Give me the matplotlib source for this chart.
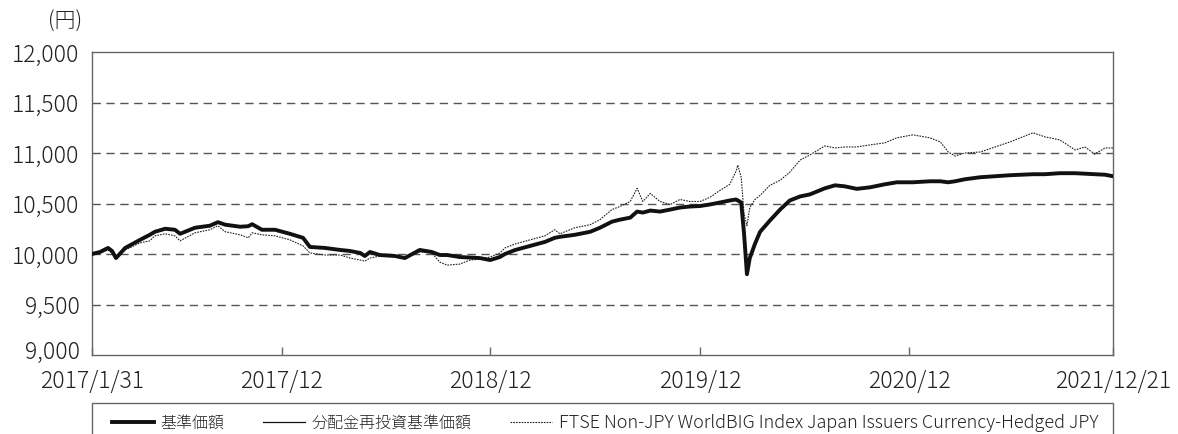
import matplotlib
matplotlib.use("Agg")
import matplotlib.pyplot as plt
import matplotlib.patches as mpatches
import matplotlib.transforms as mtransforms
import numpy as np
import pandas as pd

plt.rcParams['font.family'] = ['Noto Sans CJK JP', 'DejaVu Sans']
plt.rcParams['font.weight'] = 'light'

dates = [
    "2017-01-31", "2017-02-14", "2017-02-28", "2017-03-07", "2017-03-14", "2017-03-30",
    "2017-04-25", "2017-05-12", "2017-05-21", "2017-06-08", "2017-06-25", "2017-07-04",
    "2017-07-30", "2017-08-25", "2017-09-08", "2017-09-21", "2017-10-17", "2017-10-31",
    "2017-11-07", "2017-11-24", "2017-12-17", "2018-01-12", "2018-02-04", "2018-02-16",
    "2018-03-14", "2018-04-10", "2018-04-27", "2018-05-15", "2018-05-23", "2018-06-01",
    "2018-06-18", "2018-07-15", "2018-08-01", "2018-08-27", "2018-09-17", "2018-10-01",
    "2018-10-14", "2018-11-05", "2018-11-23", "2018-12-10", "2018-12-28", "2019-01-14",
    "2019-01-23", "2019-02-10", "2019-03-08", "2019-04-03", "2019-04-20", "2019-04-29",
    "2019-05-25", "2019-06-21", "2019-07-08", "2019-07-29", "2019-08-12", "2019-08-30",
    "2019-09-11", "2019-09-21", "2019-10-04", "2019-10-21", "2019-11-08", "2019-11-25",
    "2019-12-12", "2019-12-30", "2020-01-16", "2020-02-03", "2020-02-20", "2020-03-02",
    "2020-03-05", "2020-03-11", "2020-03-16", "2020-03-21", "2020-03-26", "2020-04-04",
    "2020-04-13", "2020-04-30", "2020-05-18", "2020-06-04", "2020-06-22", "2020-07-09",
    "2020-08-04", "2020-08-22", "2020-09-08", "2020-09-29", "2020-10-22", "2020-11-17",
    "2020-12-08", "2021-01-05", "2021-02-04", "2021-02-22", "2021-03-08", "2021-03-20",
    "2021-04-06", "2021-05-03", "2021-05-29", "2021-06-24", "2021-08-03", "2021-08-24",
    "2021-09-19", "2021-10-16", "2021-11-02", "2021-11-19", "2021-12-07", "2021-12-21",
]

nav = [
    10000, 10020, 10060, 10030, 9960, 10060,
    10140, 10190, 10220, 10250, 10240, 10200,
    10260, 10280, 10315, 10290, 10270, 10275,
    10295, 10240, 10240, 10200, 10160, 10070,
    10060, 10040, 10030, 10010, 9980, 10020,
    9990, 9980, 9960, 10040, 10020, 9990,
    9990, 9970, 9965, 9960, 9940, 9970,
    10000, 10040, 10080, 10120, 10160, 10170,
    10190, 10220, 10260, 10320, 10340, 10360,
    10420, 10410, 10430, 10420, 10440, 10460,
    10470, 10475, 10490, 10510, 10530, 10540,
    10530, 10510, 10200, 9800, 9960, 10100,
    10220, 10330, 10440, 10530, 10570, 10590,
    10650, 10680, 10670, 10645, 10660, 10690,
    10710, 10710, 10720, 10720, 10710, 10720,
    10740, 10760, 10770, 10780, 10790, 10790,
    10800, 10800, 10795, 10790, 10785, 10770,
]

nav_reinvested = list(nav)

index = [
    10000, 10010, 10040, 10010, 9970, 10040,
    10110, 10130, 10180, 10200, 10180, 10130,
    10210, 10240, 10280, 10220, 10190, 10160,
    10210, 10190, 10180, 10140, 10080, 10010,
    9990, 9990, 9960, 9940, 9930, 9960,
    9980, 9980, 9970, 10020, 10010, 9920,
    9890, 9900, 9940, 9950, 9970, 10010,
    10060, 10100, 10140, 10180, 10240, 10200,
    10260, 10290, 10340, 10440, 10470, 10520,
    10650, 10520, 10600, 10520, 10490, 10540,
    10520, 10520, 10560, 10630, 10690, 10820,
    10880, 10760, 10400, 10280, 10460, 10540,
    10580, 10680, 10730, 10810, 10930, 10980,
    11070, 11050, 11060, 11060, 11080, 11100,
    11150, 11180, 11150, 11110, 11010, 10970,
    11000, 11010, 11060, 11110, 11200, 11160,
    11130, 11030, 11060, 10990, 11050, 11050,
]

tick_dates = ["2017-01-31", "2017-12-29", "2018-12-28", "2019-12-30", "2020-12-30", "2021-12-21"]
tick_labels = ["2017/1/31", "2017/12", "2018/12", "2019/12", "2020/12", "2021/12/21"]
y_ticks = [9000, 9500, 10000, 10500, 11000, 11500, 12000]

series_labels = ["基準価額", "分配金再投資基準価額",
                 "FTSE Non-JPY WorldBIG Index Japan Issuers Currency-Hedged JPY"]

W, H = 1178, 434
fig = plt.figure(figsize=(W / 100, H / 100), dpi=100)
ax = fig.add_axes([92 / W, 1 - 355 / H, 1021 / W, 303 / H])

x = pd.to_datetime(dates)
l1, = ax.plot(x, nav, color="#111111", lw=2.8, solid_joinstyle="round", zorder=3)
l2, = ax.plot(x, nav_reinvested, color="#111111", lw=0.9, zorder=4)
l3, = ax.plot(x, index, color="#222222", lw=0.8, linestyle=(0, (1.5, 1.0)), zorder=2)

ax.set_xlim(pd.Timestamp(tick_dates[0]), pd.Timestamp(tick_dates[-1]))
ax.set_ylim(y_ticks[0], y_ticks[-1])
ax.set_yticks(y_ticks)
ax.set_yticklabels([f"{v:,}" for v in y_ticks])
ax.set_xticks(pd.to_datetime(tick_dates))
ax.set_xticklabels(tick_labels)

for v in y_ticks[1:-1]:
    ax.axhline(v, color="#555555", lw=1.0, linestyle=(0, (6, 4)), zorder=1)

for s in ax.spines.values():
    s.set_color("#666666")
    s.set_linewidth(1.0)

ax.tick_params(axis="y", length=0, pad=9, labelsize=16.5, labelcolor="#222222")
ax.tick_params(axis="x", direction="in", length=6, width=1, color="#666666",
               pad=10, labelsize=16.5, labelcolor="#222222")

# lift the bottom y label slightly, as in the reference
bottom_lbl = ax.get_yticklabels()[0]
bottom_lbl.set_transform(bottom_lbl.get_transform() +
                         mtransforms.ScaledTranslation(0, 6 / 100, fig.dpi_scale_trans))

fig.text(65 / W, 1 - 22 / H, "(円)", ha="center", va="center", fontsize=15, color="#222222")

# legend frame (extends below the figure edge)
frame = mpatches.Rectangle((92 / W, 1 - 460 / H), 1021 / W, 57 / H,
                           transform=fig.transFigure, facecolor="white",
                           edgecolor="#666666", lw=1.0, zorder=0)
fig.patches.append(frame)

leg = fig.legend([l1, l2, l3], series_labels, loc="center left",
                 bbox_to_anchor=(112 / W, 1 - 423 / H),
                 ncol=3, frameon=False,
                 fontsize=11.5, handlelength=2.6, handletextpad=0.45,
                 columnspacing=2.4, borderpad=0.0, borderaxespad=0.0)
texts = leg.get_texts()
for t in texts:
    t.set_color("#222222")
texts[2].set_fontsize(13)

fig.savefig("out.png", dpi=100)
